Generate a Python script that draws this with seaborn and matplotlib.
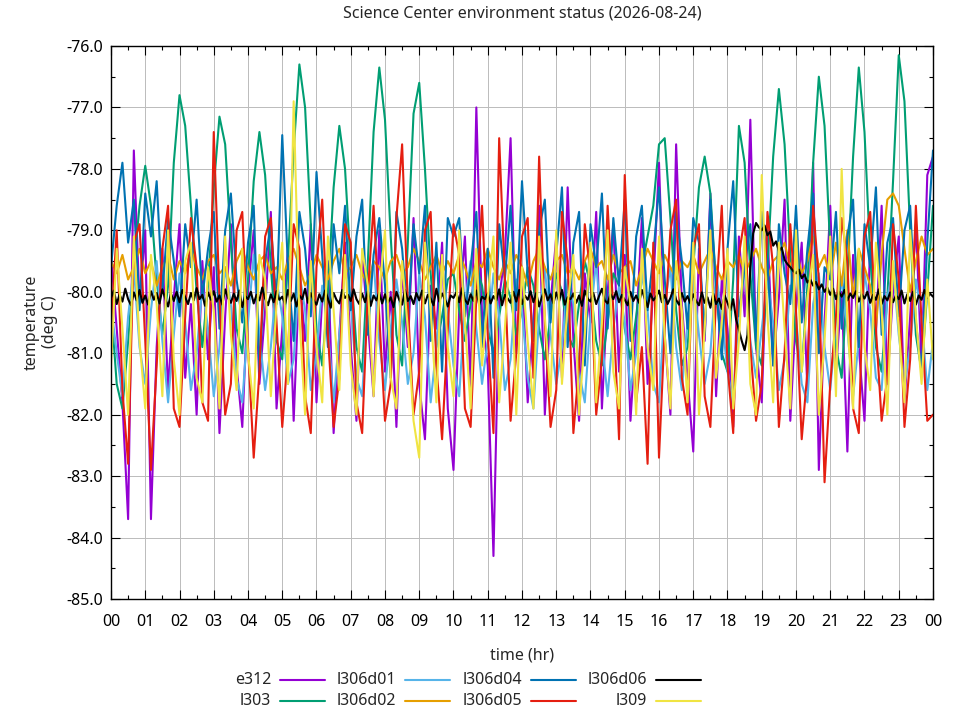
import numpy as np
import pandas as pd
import matplotlib
matplotlib.use('Agg')
import matplotlib.pyplot as plt
from matplotlib.lines import Line2D
from matplotlib.ticker import MultipleLocator, FormatStrFormatter
import seaborn as sns

title = 'Science Center environment status (2026-08-24)'
hour_labels = ['00', '01', '02', '03', '04', '05', '06', '07', '08', '09', '10', '11', '12',
               '13', '14', '15', '16', '17', '18', '19', '20', '21', '22', '23', '00']
series_names = ['e312', 'l303', 'l306d01', 'l306d02', 'l306d04', 'l306d05', 'l306d06', 'l309']
series_colors = ['#9400d3', '#009e73', '#56b4e9', '#e69f00', '#0072b2', '#e51e10', '#000000', '#f0e442']

# readings every 10 minutes from 00:00 to 24:00, one row per hour
e312 = [
    -79.4, -80.6, -81.8, -83.7, -77.7, -80.2,
    -79.0, -83.7, -80.9, -79.3, -81.6, -80.1,
    -78.9, -81.4, -80.2, -82.0, -79.5, -81.1,
    -79.6, -82.3, -80.4, -78.9, -81.2, -82.2,
    -80.0, -79.0, -81.5, -80.3, -78.7, -81.9,
    -80.6, -79.3, -82.1, -79.7, -80.8, -78.9,
    -81.8, -80.1, -79.5, -82.3, -80.7, -79.2,
    -80.9, -82.1, -79.4, -80.5, -81.7, -79.0,
    -81.3, -80.0, -82.2, -79.6, -80.9, -78.8,
    -81.5, -82.4, -79.9, -80.6, -79.2, -81.9,
    -82.9, -80.3, -79.1, -81.6, -77.0, -80.4,
    -81.2, -84.3, -80.1, -79.4, -77.5, -81.0,
    -79.6, -81.8, -80.5, -78.6, -82.0, -80.2,
    -79.1, -81.4, -78.3, -80.8, -82.1, -79.7,
    -80.5, -78.7, -81.9, -80.0, -78.9, -81.3,
    -79.4, -82.1, -80.6, -78.8, -81.5, -79.9,
    -77.9, -80.7, -82.0, -77.6, -80.2, -81.4,
    -82.6, -79.3, -80.8, -78.4, -81.7, -79.8,
    -80.6, -82.2, -79.1, -80.4, -77.2, -80.9,
    -81.8, -79.0, -81.2, -80.1, -78.5, -82.1,
    -80.3, -79.2, -81.6, -77.9, -82.9, -80.5,
    -78.6, -81.3, -80.0, -82.6, -79.4, -80.9,
    -82.1, -79.2, -80.7, -78.6, -81.5, -80.0,
    -79.1, -81.8, -80.4, -78.9, -81.2, -78.1,
    -77.8]

l303 = [
    -80.2, -81.5, -81.9, -80.8, -79.6, -78.6,
    -77.95, -78.6, -79.8, -80.7, -79.9, -77.9,
    -76.8, -77.3, -78.6, -80.0, -80.9, -79.9,
    -78.3, -77.15, -77.6, -79.2, -80.6, -81.0,
    -79.8, -78.2, -77.4, -78.1, -79.6, -80.8,
    -81.1, -79.5, -77.7, -76.3, -77.0, -78.9,
    -80.6, -81.2, -80.0, -78.3, -77.3, -78.0,
    -79.6, -80.9, -81.3, -79.5, -77.4, -76.35,
    -77.2, -79.1, -80.7, -81.2, -79.2, -77.1,
    -76.6, -78.0, -79.7, -80.9, -80.4, -79.8,
    -79.7, -80.3, -80.8, -80.2, -79.6, -79.9,
    -80.6, -81.0, -80.4, -79.8, -80.1, -80.7,
    -80.3, -79.6, -79.9, -80.6, -81.1, -80.4,
    -79.7, -80.0, -80.7, -80.9, -80.2, -79.5,
    -79.9, -80.8, -81.2, -80.5, -79.7, -79.9,
    -80.6, -81.1, -80.4, -79.6, -79.1, -78.6,
    -77.6, -77.5, -78.8, -80.3, -81.2, -80.9,
    -79.6, -78.3, -77.8, -78.4, -79.9, -81.0,
    -81.3, -79.8, -77.3, -77.9, -79.7, -80.9,
    -81.2, -79.6, -77.8, -76.7, -77.6, -79.4,
    -80.8, -81.3, -79.9, -77.9, -76.5, -77.3,
    -79.3, -80.9, -81.4, -79.8, -77.8, -76.35,
    -77.4, -79.4, -80.9, -81.3, -80.1, -78.2,
    -76.15, -76.9, -79.0, -80.7, -81.3, -80.0,
    -78.6]

l306d01 = [
    -80.2, -81.0, -81.7, -80.4, -79.6, -80.9,
    -81.5, -80.3, -79.5, -80.8, -81.8, -80.7,
    -79.7, -80.5, -81.6, -81.0, -79.9, -80.6,
    -81.7, -80.9, -79.6, -80.2, -81.4, -81.8,
    -80.5, -79.4, -80.7, -81.6, -80.9, -79.8,
    -80.4, -81.5, -81.1, -79.7, -80.3, -81.6,
    -81.0, -79.9, -80.6, -81.8, -80.7, -79.6,
    -80.2, -81.4, -81.7, -80.1, -79.5, -80.8,
    -81.6, -80.6, -79.8, -80.5, -81.5, -81.0,
    -79.7, -80.4, -81.8, -80.9, -79.6, -80.3,
    -81.2, -81.7, -80.2, -79.5, -80.6, -81.5,
    -80.8, -79.7, -80.4, -81.6, -81.1, -79.8,
    -80.3, -81.4, -81.9, -80.4, -79.6, -80.7,
    -81.5, -80.9, -79.8, -80.2, -81.3, -81.8,
    -80.4, -79.5, -80.8, -81.7, -80.6, -79.9,
    -80.5, -81.6, -81.0, -79.7, -80.3, -81.5,
    -81.8, -80.2, -79.6, -80.9, -81.6, -80.5,
    -79.8, -80.7, -81.5, -81.0, -79.7, -80.4,
    -81.3, -81.8, -80.3, -79.6, -80.8, -81.4,
    -80.6, -79.8, -80.5, -81.6, -81.1, -79.9,
    -80.4, -81.5, -81.8, -80.2, -79.7, -80.9,
    -81.6, -80.5, -79.8, -80.6, -81.7, -80.8,
    -79.7, -80.3, -81.4, -81.6, -80.1, -79.6,
    -80.7, -81.5, -80.9, -79.8, -80.4, -81.6,
    -80.8]

l306d02 = [
    -79.5, -79.7, -79.4, -79.8, -79.6, -79.3,
    -79.7, -79.5, -79.9, -79.6, -79.4, -79.8,
    -79.5, -79.7, -79.3, -79.6, -79.8, -79.5,
    -79.4, -79.7, -79.6, -79.9, -79.5, -79.3,
    -79.6, -79.8, -79.5, -79.4, -79.7, -79.6,
    -79.8, -79.5, -79.3, -79.6, -79.9, -79.7,
    -79.4, -79.6, -79.8, -79.5, -79.3, -79.7,
    -79.6, -79.4, -79.7, -79.9, -79.5, -79.6,
    -79.8, -79.5, -79.4, -79.7, -79.6, -79.3,
    -79.5, -79.8, -79.6, -79.4, -79.7, -79.5,
    -79.7, -79.4, -79.6, -79.9, -79.5, -79.6,
    -79.3, -79.6, -79.8, -79.5, -79.7, -79.4,
    -79.6, -79.9, -79.5, -79.3, -79.6, -79.8,
    -79.5, -79.4, -79.7, -79.6, -79.8, -79.5,
    -79.3, -79.6, -79.5, -79.8, -79.4, -79.7,
    -79.6, -79.5, -79.9, -79.6, -79.3, -79.5,
    -79.7, -79.4, -79.6, -79.8, -79.5, -79.6,
    -79.4, -79.7, -79.5, -79.3, -79.6, -79.8,
    -79.5, -79.6, -79.4, -79.7, -79.5, -79.3,
    -79.6, -79.8, -79.5, -79.4, -79.2, -79.6,
    -79.3, -79.7, -79.5, -79.1, -79.6, -79.4,
    -79.8, -79.2, -79.9, -79.0, -80.1, -79.3,
    -79.6, -79.9, -80.6, -79.4, -78.5, -78.4,
    -78.6, -79.3, -80.0, -79.5, -79.1, -79.4,
    -79.3]

l306d04 = [
    -79.6, -78.6, -77.9, -79.2, -78.5, -80.3,
    -78.4, -79.1, -78.2, -80.0, -78.8, -79.5,
    -80.4, -78.9, -79.6, -78.5, -80.1, -79.3,
    -78.7, -80.6, -79.0, -78.4, -79.8, -80.5,
    -79.2, -78.6, -81.3, -79.5, -78.9, -80.2,
    -77.45, -79.6, -80.8, -78.7, -79.3, -80.4,
    -78.05, -79.4, -80.9, -78.9, -79.7, -78.6,
    -80.3, -79.1, -78.5, -80.7, -79.4, -78.8,
    -79.9, -81.4, -78.7, -79.3, -80.5, -78.9,
    -79.7, -78.6, -80.8, -79.2, -81.3, -78.8,
    -79.1, -78.8, -80.4, -79.6, -78.7, -80.9,
    -79.3, -81.4, -78.9, -79.8, -78.6, -80.3,
    -78.2, -79.7, -80.8, -79.0, -78.5, -80.5,
    -79.4, -78.3, -80.9, -79.2, -78.7, -81.2,
    -78.9, -79.6, -78.4, -80.6, -78.8, -79.9,
    -78.5, -80.8, -79.1, -78.6, -80.3, -79.4,
    -78.3, -79.8, -81.0, -78.7, -79.5, -80.6,
    -78.8, -79.2, -80.7, -78.5, -79.9, -81.1,
    -79.3, -78.2, -80.4, -79.6, -78.9, -80.8,
    -78.7, -79.5, -81.2, -78.9, -79.7, -80.2,
    -78.6, -80.5, -79.3, -78.4, -81.0, -79.6,
    -79.8, -78.7, -80.6, -79.1, -78.5, -80.9,
    -78.9, -79.6, -78.3, -80.7, -79.2, -78.8,
    -80.4, -79.0, -78.6, -80.5, -81.3, -79.2,
    -77.7]

l306d05 = [
    -80.6, -79.0, -81.6, -82.8, -79.2, -78.9,
    -80.8, -82.9, -81.2, -79.3, -78.6, -81.9,
    -82.2, -80.4, -78.8, -79.6, -81.8, -82.1,
    -77.4, -80.1, -82.0, -81.5, -79.0, -78.7,
    -80.9, -82.7, -81.3, -79.1, -78.8, -80.5,
    -82.2, -81.0, -78.9, -79.3, -81.7, -82.3,
    -79.6, -78.5, -80.7, -82.2, -81.4, -78.9,
    -79.2, -81.8, -82.3, -80.0, -78.6, -80.4,
    -82.1, -81.5, -78.8, -77.6, -80.2, -82.0,
    -81.3, -79.0, -78.7, -81.2, -82.4, -80.6,
    -78.9, -79.4, -81.9, -82.2, -80.1, -78.6,
    -80.7, -82.3, -77.5, -79.8, -82.1, -81.0,
    -79.1, -78.8, -81.4, -77.8, -80.5, -82.2,
    -81.6, -78.7, -79.5, -82.3, -81.2, -78.9,
    -79.7, -82.0, -81.1, -78.6, -80.3, -82.4,
    -78.1, -80.4, -81.8, -80.9, -82.8, -79.2,
    -82.7, -80.6, -79.0, -78.5, -81.4, -82.0,
    -79.3, -78.9, -81.7, -82.2, -80.1, -78.6,
    -81.2, -82.3, -79.4, -78.8, -80.9, -82.1,
    -81.5, -78.7, -79.6, -82.2, -81.0, -78.9,
    -80.3, -82.4, -81.3, -78.6, -79.8, -83.1,
    -81.5, -80.4, -78.8, -79.5, -81.9, -82.3,
    -79.1, -78.7, -80.6, -82.1, -81.4, -78.9,
    -79.8, -82.2, -81.1, -78.6, -80.5, -82.1,
    -82.0]

# l306d06 is logged every 5 minutes
l306d06 = [
    -80.10, -79.98, -80.20, -80.04, -80.16, -79.95, -80.12, -80.22, -80.01, -80.14, -79.97, -80.18,
    -80.06, -80.21, -79.99, -80.13, -80.02, -80.19, -79.96, -80.11, -80.24, -80.03, -80.15, -80.00,
    -80.17, -79.97, -80.09, -80.20, -80.02, -80.14, -79.94, -80.12, -80.05, -80.23, -80.01, -80.13,
    -79.99, -80.16, -80.06, -80.21, -79.96, -80.10, -80.18, -80.03, -80.15, -79.98, -80.25, -80.07,
    -80.12, -80.00, -80.19, -80.05, -80.14, -79.93, -80.11, -80.22, -80.04, -80.17, -79.99, -80.13,
    -80.08, -80.20, -79.97, -80.15, -80.03, -80.24, -80.06, -80.12, -79.95, -80.18, -80.02, -80.14,
    -80.21, -80.04, -80.16, -79.98, -80.11, -80.26, -80.02, -80.13, -80.19, -79.97, -80.10, -80.05,
    -80.15, -79.96, -80.12, -80.20, -80.03, -80.17, -79.99, -80.23, -80.06, -80.14, -80.01, -80.19,
    -80.04, -80.18, -80.09, -80.25, -80.00, -80.13, -80.21, -79.97, -80.15, -80.07, -80.20, -80.02,
    -80.14, -79.98, -80.19, -80.05, -80.11, -80.22, -79.95, -80.16, -80.03, -80.12, -80.24, -80.06,
    -80.10, -80.01, -80.17, -79.94, -80.13, -80.20, -80.04, -80.15, -79.98, -80.21, -80.08, -80.12,
    -80.03, -80.19, -80.07, -80.14, -79.96, -80.22, -80.05, -80.11, -80.18, -80.00, -80.16, -79.97,
    -80.20, -80.06, -80.13, -79.99, -80.17, -80.02, -80.24, -80.08, -79.96, -80.14, -80.04, -80.19,
    -80.01, -80.15, -79.97, -80.21, -80.09, -80.12, -80.03, -80.18, -80.06, -80.23, -79.98, -80.11,
    -80.16, -80.02, -80.20, -80.07, -79.95, -80.14, -80.19, -80.04, -80.12, -79.99, -80.17, -80.05,
    -80.13, -80.22, -80.00, -80.15, -80.06, -80.18, -79.97, -80.11, -80.25, -80.03, -80.14, -80.08,
    -79.98, -80.17, -80.05, -80.20, -80.10, -79.96, -80.13, -80.21, -80.02, -80.16, -80.07, -80.19,
    -80.04, -80.15, -80.22, -80.01, -80.18, -80.09, -80.26, -80.03, -80.20, -80.11, -80.28, -80.06,
    -80.18, -80.30, -80.12, -80.45, -80.62, -80.80, -80.95, -80.70, -79.60, -79.05, -78.88, -78.95,
    -79.00, -78.92, -79.08, -79.02, -79.25, -79.18, -79.34, -79.28, -79.48, -79.55, -79.60, -79.66,
    -79.70, -79.64, -79.78, -79.72, -79.85, -79.80, -79.90, -79.84, -79.96, -79.88, -80.00, -79.93,
    -80.05, -79.95, -80.12, -80.00, -80.08, -79.97, -80.14, -80.03, -80.10, -79.99, -80.16, -80.04,
    -80.11, -80.00, -80.18, -80.05, -80.13, -79.96, -80.20, -80.07, -80.14, -80.01, -80.17, -80.06,
    -80.12, -79.98, -80.19, -80.04, -80.15, -80.00, -80.21, -80.06, -80.13, -79.97, -80.10, -80.03,
    -80.08]

l309 = [
    -81.2, -79.3, -80.6, -82.0, -79.1, -80.8,
    -81.9, -79.4, -80.2, -81.7, -79.0, -81.1,
    -82.0, -79.5, -79.2, -81.4, -81.8, -79.6,
    -80.3, -81.9, -79.1, -80.7, -81.6, -79.3,
    -81.0, -81.9, -79.4, -79.8, -81.7, -80.2,
    -79.2, -81.5, -76.9, -80.4, -82.0, -79.5,
    -80.9, -81.8, -79.1, -80.3, -81.6, -79.4,
    -81.2, -82.0, -79.3, -79.9, -81.7, -80.0,
    -79.0, -81.4, -81.9, -79.5, -80.6, -82.1,
    -82.7, -79.2, -80.3, -81.8, -79.4, -80.9,
    -81.7, -79.0, -80.5, -81.9, -79.3, -81.2,
    -80.1, -79.1, -81.8, -80.6, -79.2, -82.0,
    -79.6, -80.8, -81.9, -79.1, -80.4, -81.7,
    -79.0, -81.5, -80.2, -79.4, -82.0, -80.7,
    -79.2, -81.8, -80.5, -79.0, -81.3, -81.9,
    -79.6, -80.2, -82.0, -79.3, -80.9, -81.6,
    -79.1, -80.7, -81.9, -79.5, -80.3, -81.8,
    -79.2, -82.0, -80.6, -79.0, -81.4, -80.5,
    -79.3, -81.9, -80.8, -79.1, -81.5, -82.0,
    -78.1, -80.4, -81.8, -79.2, -80.6, -81.9,
    -79.0, -81.3, -80.1, -79.4, -82.0, -80.8,
    -79.1, -81.7, -78.0, -80.5, -81.9, -79.3,
    -80.9, -81.6, -79.2, -80.3, -82.0, -79.5,
    -80.6, -81.8, -79.0, -80.4, -81.5, -79.8,
    -81.1]


def build_frame():
    frames = []
    for name, vals in zip(series_names, [e312, l303, l306d01, l306d02, l306d04, l306d05, l306d06, l309]):
        # every list spans 00:00..24:00 evenly
        t = np.linspace(0, 24, len(vals))
        frames.append(pd.DataFrame({'time': t, 'temp': vals, 'sensor': name}))
    return pd.concat(frames, ignore_index=True)


def draw(df):
    fs = 11.5
    fig = plt.figure(figsize=(9.6, 7.2), dpi=100)
    ax = fig.add_axes([111 / 960, 1 - 599 / 720, 822 / 960, 553 / 720])
    sns.lineplot(data=df, x='time', y='temp', hue='sensor', hue_order=series_names,
                 palette=dict(zip(series_names, series_colors)), estimator=None,
                 sort=False, linewidth=1.5, legend=False, ax=ax)

    ax.set_xlim(0, 24)
    ax.set_ylim(-85, -76)
    ax.set_xticks(range(25))
    ax.set_xticklabels(hour_labels)
    ax.xaxis.set_minor_locator(MultipleLocator(0.5))
    ax.yaxis.set_major_locator(MultipleLocator(1.0))
    ax.yaxis.set_minor_locator(MultipleLocator(0.5))
    ax.yaxis.set_major_formatter(FormatStrFormatter('%.1f'))
    ax.set_xlabel('')
    ax.set_ylabel('')

    # thin 1 px grid without antialiasing so every line looks the same
    ax.grid(True, which='major', color='#bdbdbd', linewidth=0.7)
    for gl in ax.get_xgridlines() + ax.get_ygridlines():
        gl.set_antialiased(False)
    ax.set_axisbelow(True)
    for sp in ax.spines.values():
        sp.set_visible(True)
        sp.set_color('black')
        sp.set_linewidth(1.0)

    ax.tick_params(which='both', direction='in', bottom=True, left=True, top=True, right=True,
                   color='black', labelsize=fs, labelcolor='black')
    ax.tick_params(which='major', length=6.5, width=0.8)
    ax.tick_params(which='minor', length=3.2, width=0.8)
    ax.tick_params(axis='y', which='major', pad=6)
    ax.tick_params(axis='x', which='major', pad=11)

    fig.text(522 / 960, 1 - 13 / 720, title, ha='center', va='center', fontsize=fs)
    fig.text(522 / 960, 1 - 655 / 720, 'time (hr)', ha='center', va='center', fontsize=fs)
    fig.text(41 / 960, 1 - 322 / 720, 'temperature\n(deg C)', ha='center', va='center',
             rotation=90, multialignment='center', fontsize=fs)

    # legend: label on the left, sample line on the right, two rows
    leg_x = [271, 396, 522, 647]
    leg_y = [680, 701]
    for i, (name, color) in enumerate(zip(series_names, series_colors)):
        col, row = divmod(i, 2)
        x = leg_x[col]
        y = 1 - leg_y[row] / 720
        fig.text(x / 960, y, name, ha='right', va='center', fontsize=fs)
        fig.add_artist(Line2D([(x + 9) / 960, (x + 54) / 960], [y, y], color=color, linewidth=1.5))

    fig.savefig('out.png', dpi=100)


if __name__ == "__main__":
    sns.set_style('white')
    plt.rcParams['font.family'] = ['Noto Sans', 'DejaVu Sans']
    draw(build_frame())
